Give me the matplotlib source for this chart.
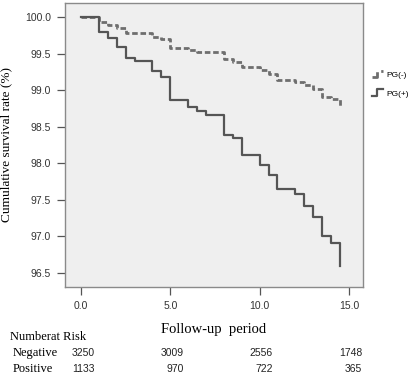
import matplotlib.pyplot as plt
from matplotlib.legend_handler import HandlerBase
from matplotlib.lines import Line2D
import matplotlib.transforms as mtransforms

# step change times and survival (%) after each step
neg_times = [0, 1.0, 1.5, 2.0, 2.5, 3.0, 4.0, 4.5, 5.0, 6.0, 6.5, 7.0, 8.0, 8.5,
             9.0, 10.0, 10.5, 11.0, 12.0, 12.5, 13.0, 13.5, 14.0, 14.5]
neg_surv = [100.0, 99.93, 99.89, 99.86, 99.79, 99.78, 99.73, 99.70, 99.58, 99.55,
            99.53, 99.52, 99.43, 99.39, 99.32, 99.28, 99.22, 99.14, 99.12, 99.07,
            99.02, 98.91, 98.88, 98.79]

pos_times = [0, 1.0, 1.5, 2.0, 2.5, 3.0, 4.0, 4.5, 5.0, 6.0, 6.5, 7.0, 8.0, 8.5,
             9.0, 10.0, 10.5, 11.0, 12.0, 12.5, 13.0, 13.5, 14.0, 14.5]
pos_surv = [100.0, 99.80, 99.72, 99.60, 99.44, 99.40, 99.27, 99.18, 98.87, 98.77,
            98.72, 98.67, 98.39, 98.35, 98.11, 97.98, 97.84, 97.65, 97.58, 97.42,
            97.27, 97.00, 96.91, 96.60]

risk_times = [0, 5, 10, 15]
risk_neg = [3250, 3009, 2556, 1748]
risk_pos = [1133, 970, 722, 365]

x_ticks = [0.0, 5.0, 10.0, 15.0]
y_ticks = [96.5, 97.0, 97.5, 98.0, 98.5, 99.0, 99.5, 100.0]

SERIF = "Liberation Serif"
SANS = "Liberation Sans"


class StepHandler(HandlerBase):
    def create_artists(self, legend, orig_handle, xdescent, ydescent,
                       width, height, fontsize, trans):
        xs = [0, width * 0.45, width * 0.45, width * 0.9]
        ys = [0, 0, height * 1.1, height * 1.1]
        line = Line2D(xs, ys, color=orig_handle.get_color(),
                      linestyle=orig_handle.get_linestyle(),
                      linewidth=orig_handle.get_linewidth())
        line.set_transform(trans)
        return [line]


fig = plt.figure(figsize=(4.19, 3.84), dpi=100)
ax = fig.add_axes([0.155, 0.253, 0.711, 0.739])
ax.set_facecolor("#efefef")

neg_line, = ax.step(neg_times, neg_surv, where="post", color="#6e6e6e",
                    linewidth=2, linestyle=(0, (2, 1)))
pos_line, = ax.step(pos_times, pos_surv, where="post", color="#555555",
                    linewidth=1.6)

ax.set_xlim(-0.9, 15.78)
ax.set_ylim(96.31, 100.196)
ax.set_xticks(x_ticks)
ax.set_xticklabels([f"{v:.1f}" for v in x_ticks], fontfamily=SANS, fontsize=7.5,
                   color="#333333")
ax.set_yticks(y_ticks)
ax.set_yticklabels([f"{v:.1f}" for v in y_ticks], fontfamily=SANS, fontsize=7.5,
                   color="#333333")
ax.tick_params(direction="out", length=6, width=0.9, color="#555555", pad=4)
for sp in ax.spines.values():
    sp.set_color("#8a8a8a")
    sp.set_linewidth(1)

ax.set_ylabel("Cumulative survival rate (%)", fontfamily=SERIF, fontsize=9.5, labelpad=9)
ax.set_xlabel("Follow-up  period", fontfamily=SERIF, fontsize=10.5, labelpad=9)

leg = fig.legend([neg_line, pos_line], ["PG(-)", "PG(+)"],
                 handler_map={Line2D: StepHandler()},
                 loc="upper left", bbox_to_anchor=(0.878, 0.825),
                 frameon=False, prop={"family": SANS, "size": 6},
                 handlelength=1.4, handletextpad=0.3, labelspacing=1.3,
                 borderpad=0)

# number at risk table
fig.text(0.025, 0.122, "Numberat Risk", fontfamily=SERIF, fontsize=9, va="center")
tr = mtransforms.blended_transform_factory(ax.transData, fig.transFigure)
fig.text(0.03, 0.081, "Negative", fontfamily=SERIF, fontsize=9, va="center")
fig.text(0.03, 0.039, "Positive", fontfamily=SERIF, fontsize=9, va="center")
for t, n_neg, n_pos in zip(risk_times, risk_neg, risk_pos):
    ax.text(t + 0.75, 0.081, str(n_neg), transform=tr, ha="right", va="center",
            fontfamily=SANS, fontsize=7.5, color="#222222", clip_on=False)
    ax.text(t + 0.75, 0.039, str(n_pos), transform=tr, ha="right", va="center",
            fontfamily=SANS, fontsize=7.5, color="#222222", clip_on=False)

fig.savefig("out.png", dpi=100, facecolor="white")
